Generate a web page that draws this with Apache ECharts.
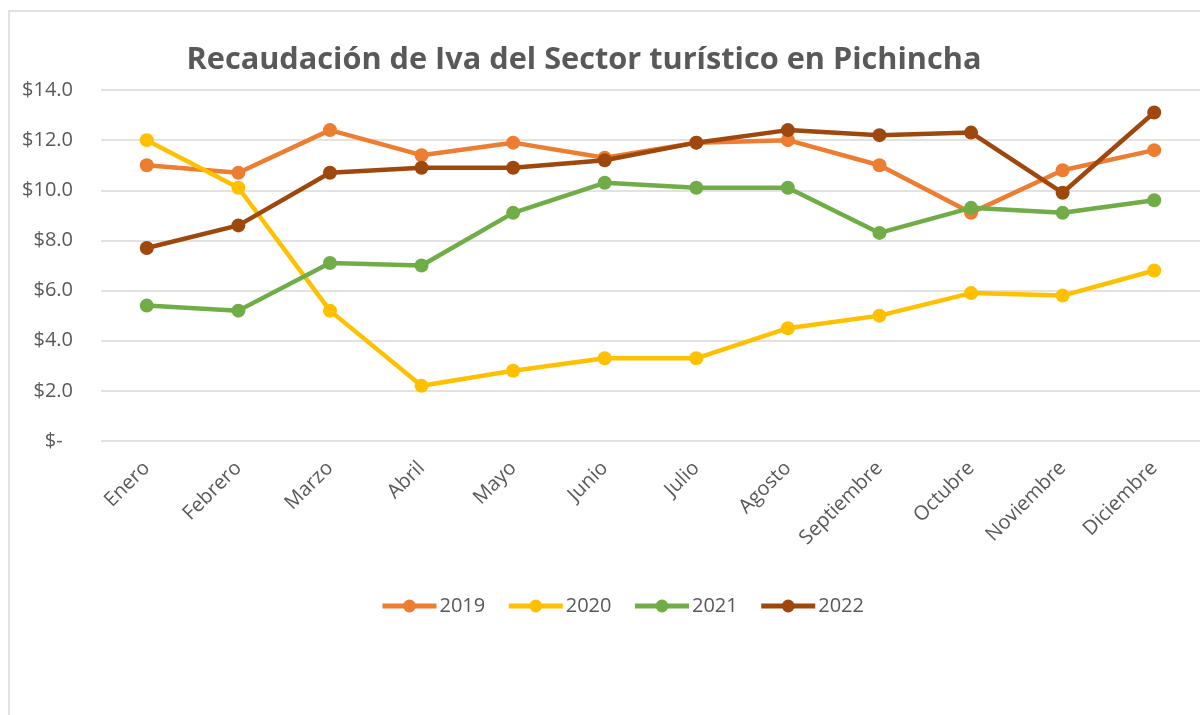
<!DOCTYPE html>
<html lang="es">
<head>
  <meta charset="UTF-8">
  <title>Recaudación de Iva</title>
  <style>
    html, body { margin: 0; padding: 0; background: #fff; }
    #main { width: 1200px; height: 715px; }
  </style>
</head>
<body>
  <div id="main"></div>
  <script src="https://cdn.jsdelivr.net/npm/echarts@6/dist/echarts.min.js"></script>
  <script>
    // meses
    const meses = ['Enero', 'Febrero', 'Marzo', 'Abril', 'Mayo', 'Junio', 'Julio',
      'Agosto', 'Septiembre', 'Octubre', 'Noviembre', 'Diciembre'];

    // recaudacion por año (millones)
    const d2019 = [11.0, 10.7, 12.4, 11.4, 11.9, 11.3, 11.9, 12.0, 11.0, 9.1, 10.8, 11.6];
    const d2020 = [12.0, 10.1, 5.2, 2.2, 2.8, 3.3, 3.3, 4.5, 5.0, 5.9, 5.8, 6.8];
    const d2021 = [5.4, 5.2, 7.1, 7.0, 9.1, 10.3, 10.1, 10.1, 8.3, 9.3, 9.1, 9.6];
    const d2022 = [7.7, 8.6, 10.7, 10.9, 10.9, 11.2, 11.9, 12.4, 12.2, 12.3, 9.9, 13.1];

    const anios = ['2019', '2020', '2021', '2022'];
    const colores = ['#ED7D31', '#FFC000', '#70AD47', '#9E480E'];
    const datos = [d2019, d2020, d2021, d2022];

    const fuente = 'Open Sans';
    const gris = '#595959';

    const myChart = echarts.init(document.getElementById('main'));

    const option = {
      backgroundColor: '#fff',
      animation: false,
      textStyle: { fontFamily: fuente },
      graphic: [{
        type: 'rect',
        shape: { x: 9, y: 11, width: 1400, height: 900 },
        style: { fill: 'none', stroke: '#d9d9d9', lineWidth: 1.5 },
        silent: true
      }],
      title: {
        text: 'Recaudación de Iva del Sector turístico en Pichincha',
        left: 579,
        top: 40,
        textAlign: 'center',
        textStyle: { fontFamily: fuente, fontSize: 30.7, fontWeight: 'bold', color: gris }
      },
      legend: {
        left: 380,
        top: 596,
        padding: 0,
        itemWidth: 54,
        itemHeight: 16,
        itemGap: 21,
        lineStyle: { width: 5 },
        textStyle: { fontFamily: fuente, fontSize: 20, color: gris, padding: [0, 0, 0, -2] },
        data: anios
      },
      grid: { left: 101, top: 90, width: 1111, height: 351, containLabel: false },
      xAxis: {
        type: 'category',
        data: meses,
        boundaryGap: true,
        axisLine: { show: false },
        axisTick: { show: false },
        axisLabel: { rotate: 45, margin: 24, fontFamily: fuente, fontSize: 20, color: gris }
      },
      yAxis: {
        type: 'value',
        min: 0,
        max: 14,
        interval: 2,
        axisLine: { show: false },
        axisTick: { show: false },
        splitLine: { lineStyle: { color: '#d9d9d9', width: 1.5 } },
        axisLabel: {
          margin: 28,
          fontFamily: fuente,
          fontSize: 20,
          color: gris,
          formatter: v => v === 0 ? '$-  ' : '$' + v.toFixed(1)
        }
      },
      series: anios.map((a, i) => ({
        name: a,
        type: 'line',
        data: datos[i],
        symbol: 'circle',
        symbolSize: 14,
        lineStyle: { width: 4.5, color: colores[i] },
        itemStyle: { color: colores[i] },
        z: 2 + i
      }))
    };

    myChart.setOption(option);
  </script>
</body>
</html>
